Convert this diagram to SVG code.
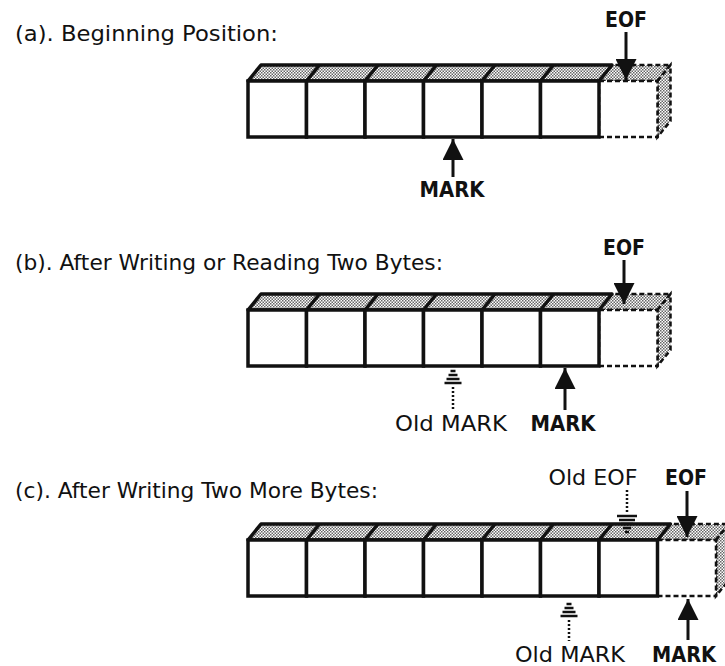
<svg xmlns="http://www.w3.org/2000/svg" width="725" height="666" viewBox="0 0 725 666">
<defs>
<pattern id="st" width="3" height="3" patternUnits="userSpaceOnUse">
<rect width="3" height="3" fill="#fff"/>
<rect width="1.5" height="1.5" fill="#666"/>
<rect x="1.5" y="1.5" width="1.5" height="1.5" fill="#666"/>
</pattern>
<marker id="ah" viewBox="0 0 10 10" refX="10" refY="5" markerWidth="7.5" markerHeight="7" markerUnits="strokeWidth" orient="auto">
<path d="M0,0 L10,5 L0,10 Z" fill="#111"/>
</marker>
</defs>
<style>
text{font-family:"DejaVu Sans","Liberation Sans",Arial,sans-serif;fill:#111}
.h{font-size:21px}
.b{font-size:21px;font-weight:bold}
.r{font-size:21px}
.top{fill:url(#st);stroke:#111;stroke-width:3.5;stroke-linejoin:round}
.div{stroke:#111;stroke-width:3.5}
.cell{fill:#fff;stroke:#111;stroke-width:3.5}
.dtop{fill:url(#st);stroke:#111;stroke-width:2.5;stroke-dasharray:5 3}
.dcell{fill:#fff;stroke:#111;stroke-width:2.5;stroke-dasharray:5 3}
.arr{stroke:#111;stroke-width:3;fill:none;marker-end:url(#ah)}
.dot{stroke:#111;stroke-width:2.5;stroke-dasharray:2 2;fill:none}
.stripe{stroke:#111;stroke-width:2.5}
</style>

<g id="header-a"><text class="h" x="15" y="41" textLength="263" lengthAdjust="spacingAndGlyphs">(a).  Beginning Position:</text></g>
<g id="header-b"><text class="h" x="15" y="270" textLength="428" lengthAdjust="spacingAndGlyphs">(b).  After Writing or Reading Two Bytes:</text></g>
<g id="header-c"><text class="h" x="15" y="498" textLength="363" lengthAdjust="spacingAndGlyphs">(c).  After Writing Two More Bytes:</text></g>

<g id="row-a">
<polygon class="dtop" points="599,81 612,65 670.5,65 657.5,81"/>
<polygon class="dtop" points="657.5,81 670.5,65 670.5,121 657.5,137"/>
<rect class="dcell" x="599" y="81" width="58.5" height="56"/>
<polygon class="top" points="248,81 261,65 612,65 599,81"/>
<g class="div">
<line x1="306.5" y1="81" x2="319.5" y2="65"/><line x1="365" y1="81" x2="378" y2="65"/><line x1="423.5" y1="81" x2="436.5" y2="65"/><line x1="482" y1="81" x2="495" y2="65"/><line x1="540.5" y1="81" x2="553.5" y2="65"/>
</g>
<rect class="cell" x="248" y="81" width="58.5" height="56"/>
<rect class="cell" x="306.5" y="81" width="58.5" height="56"/>
<rect class="cell" x="365" y="81" width="58.5" height="56"/>
<rect class="cell" x="423.5" y="81" width="58.5" height="56"/>
<rect class="cell" x="482" y="81" width="58.5" height="56"/>
<rect class="cell" x="540.5" y="81" width="58.5" height="56"/>
</g>

<g id="row-b">
<polygon class="dtop" points="599,310 612,294 670.5,294 657.5,310"/>
<polygon class="dtop" points="657.5,310 670.5,294 670.5,350 657.5,366"/>
<rect class="dcell" x="599" y="310" width="58.5" height="56"/>
<polygon class="top" points="248,310 261,294 612,294 599,310"/>
<g class="div">
<line x1="306.5" y1="310" x2="319.5" y2="294"/><line x1="365" y1="310" x2="378" y2="294"/><line x1="423.5" y1="310" x2="436.5" y2="294"/><line x1="482" y1="310" x2="495" y2="294"/><line x1="540.5" y1="310" x2="553.5" y2="294"/>
</g>
<rect class="cell" x="248" y="310" width="58.5" height="56"/>
<rect class="cell" x="306.5" y="310" width="58.5" height="56"/>
<rect class="cell" x="365" y="310" width="58.5" height="56"/>
<rect class="cell" x="423.5" y="310" width="58.5" height="56"/>
<rect class="cell" x="482" y="310" width="58.5" height="56"/>
<rect class="cell" x="540.5" y="310" width="58.5" height="56"/>
</g>

<g id="row-c">
<polygon class="dtop" points="657.5,540 670.5,524 729,524 716,540"/>
<polygon class="dtop" points="716,540 729,524 729,580 716,596"/>
<rect class="dcell" x="657.5" y="540" width="58.5" height="56"/>
<polygon class="top" points="248,540 261,524 670.5,524 657.5,540"/>
<g class="div">
<line x1="306.5" y1="540" x2="319.5" y2="524"/><line x1="365" y1="540" x2="378" y2="524"/><line x1="423.5" y1="540" x2="436.5" y2="524"/><line x1="482" y1="540" x2="495" y2="524"/><line x1="540.5" y1="540" x2="553.5" y2="524"/><line x1="599" y1="540" x2="612" y2="524"/>
</g>
<rect class="cell" x="248" y="540" width="58.5" height="56"/>
<rect class="cell" x="306.5" y="540" width="58.5" height="56"/>
<rect class="cell" x="365" y="540" width="58.5" height="56"/>
<rect class="cell" x="423.5" y="540" width="58.5" height="56"/>
<rect class="cell" x="482" y="540" width="58.5" height="56"/>
<rect class="cell" x="540.5" y="540" width="58.5" height="56"/>
<rect class="cell" x="599" y="540" width="58.5" height="56"/>
</g>

<g id="labels">
<text class="b" x="626" y="27" text-anchor="middle" textLength="42" lengthAdjust="spacingAndGlyphs">EOF</text>
<text class="b" x="452" y="197" text-anchor="middle" textLength="65" lengthAdjust="spacingAndGlyphs">MARK</text>
<text class="b" x="624" y="255" text-anchor="middle" textLength="42" lengthAdjust="spacingAndGlyphs">EOF</text>
<text class="r" x="451" y="431" text-anchor="middle" textLength="112" lengthAdjust="spacingAndGlyphs">Old MARK</text>
<text class="b" x="563" y="431" text-anchor="middle" textLength="65" lengthAdjust="spacingAndGlyphs">MARK</text>
<text class="r" x="593" y="485" text-anchor="middle" textLength="89" lengthAdjust="spacingAndGlyphs">Old EOF</text>
<text class="b" x="686" y="485" text-anchor="middle" textLength="42" lengthAdjust="spacingAndGlyphs">EOF</text>
<text class="r" x="570" y="662" text-anchor="middle" textLength="110" lengthAdjust="spacingAndGlyphs">Old MARK</text>
<text class="b" x="684" y="662" text-anchor="middle" textLength="64" lengthAdjust="spacingAndGlyphs">MARK</text>
</g>

<g id="connectors">
<line class="arr" x1="626" y1="32" x2="626" y2="80"/>
<line class="arr" x1="453" y1="177" x2="453" y2="139"/>
<line class="arr" x1="624" y1="260" x2="624" y2="304"/>
<line class="arr" x1="565" y1="410" x2="565" y2="368"/>
<line class="arr" x1="687" y1="491" x2="687" y2="537"/>
<line class="arr" x1="688" y1="640" x2="688" y2="599"/>
<g id="old-mark-b">
<line class="dot" x1="453" y1="387" x2="453" y2="410"/>
<g class="stripe"><line x1="450.5" y1="371" x2="455.5" y2="371"/><line x1="448.5" y1="375" x2="457.5" y2="375"/><line x1="446.5" y1="379" x2="459.5" y2="379"/><line x1="444.5" y1="383" x2="461.5" y2="383"/></g>
</g>
<g id="old-mark-c">
<line class="dot" x1="569" y1="620" x2="569" y2="641"/>
<g class="stripe"><line x1="566.5" y1="604" x2="571.5" y2="604"/><line x1="564.5" y1="608" x2="573.5" y2="608"/><line x1="562.5" y1="612" x2="575.5" y2="612"/><line x1="560.5" y1="616" x2="577.5" y2="616"/></g>
</g>
<g id="old-eof-c">
<line class="dot" x1="627" y1="490" x2="627" y2="513"/>
<g class="stripe"><line x1="617" y1="516" x2="637" y2="516"/><line x1="619" y1="520" x2="635" y2="520"/><line x1="621" y1="524" x2="633" y2="524"/><line x1="623" y1="528" x2="631" y2="528"/><line x1="625" y1="532" x2="629" y2="532"/></g>
</g>
</g>
</svg>
